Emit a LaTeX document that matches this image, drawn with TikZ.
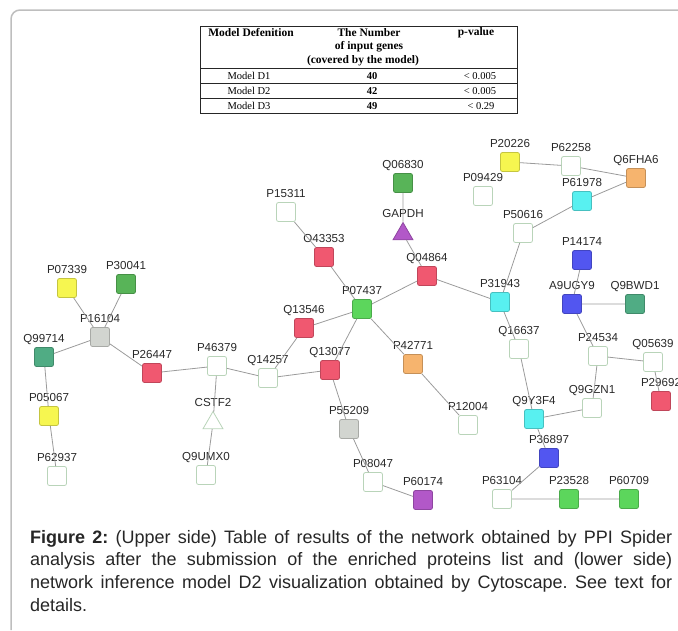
\documentclass[tikz,border=0pt]{standalone}
\usepackage{fontspec}
\setmainfont{Liberation Serif}
\setsansfont{Liberation Sans}
\usetikzlibrary{shapes.geometric}
\frenchspacing

\definecolor{nodered}{RGB}{240,88,112}
\definecolor{nodegreen}{RGB}{92,214,92}
\definecolor{nodedkgreen}{RGB}{88,180,88}
\definecolor{nodeteal}{RGB}{80,172,132}
\definecolor{nodeyellow}{RGB}{246,246,80}
\definecolor{nodeorange}{RGB}{246,180,110}
\definecolor{nodecyan}{RGB}{88,240,240}
\definecolor{nodeblue}{RGB}{82,86,240}
\definecolor{nodepurple}{RGB}{178,88,200}
\definecolor{nodegray}{RGB}{210,213,208}
\definecolor{nodeline}{RGB}{185,212,185}
\definecolor{edgegray}{RGB}{155,155,155}
\definecolor{framegray}{RGB}{190,190,190}
\definecolor{labeltext}{RGB}{40,40,40}

\tikzset{
  prot/.style={rectangle, rounded corners=2, minimum size=19, inner sep=0,
    line width=0.8, fill=#1, draw=#1!80!black},
  protw/.style={prot=white, draw=nodeline},
  hub/.style={regular polygon, regular polygon sides=3, minimum size=23,
    inner sep=0, line width=0.8, fill=#1, draw=#1!80!black},
  every label/.style={font=\sffamily\fontsize{11.6}{13}\selectfont,
    text=labeltext, inner sep=0, text depth=0},
  link/.style={draw=edgegray, line width=0.8},
  tabline/.style={draw=black!85, line width=0.9},
  tabhead/.style={font=\fontsize{11.5}{14}\selectfont\bfseries, inner sep=0},
  tabcell/.style={font=\fontsize{10.5}{12}\selectfont, inner sep=0},
  caption/.style={font=\sffamily\fontsize{18}{22.7}\selectfont, text=black!85,
    text width=642, align=justify, inner sep=0}
}

\begin{document}
\begin{tikzpicture}[x=1pt, y=-1pt, label distance=4]
  \useasboundingbox (0,0) rectangle (678,630);

  % frame
  \draw[framegray, line width=1.5, rounded corners=9] (678,10) -- (11,10) -- (11,630);

  % table of models
  \draw[tabline] (200,26) rectangle (517,113);
  \draw[tabline] (200,68) -- (517,68);
  \draw[tabline] (200,83) -- (517,83);
  \draw[tabline] (200,98) -- (517,98);
  \node[tabhead] (hmodel) at (251,33) {Model Defenition};
  \node[tabhead] (hnumA)  at (369,33) {The Number};
  \node[tabhead] (hnumB)  at (369,47) {of input genes};
  \node[tabhead] (hnumC)  at (363,61) {(covered by the model)};
  \node[tabhead] (hpval)  at (476,33) {p-value};
  \node[tabcell] (mA) at (249,76)  {Model D1};
  \node[tabcell] (mB) at (249,91)  {Model D2};
  \node[tabcell] (mC) at (249,106) {Model D3};
  \node[tabcell, font=\fontsize{10.5}{12}\selectfont\bfseries] (nA) at (372,76)  {40};
  \node[tabcell, font=\fontsize{10.5}{12}\selectfont\bfseries] (nB) at (372,91)  {42};
  \node[tabcell, font=\fontsize{10.5}{12}\selectfont\bfseries] (nC) at (372,106) {49};
  \node[tabcell] (pA) at (480,76)  {< 0.005};
  \node[tabcell] (pB) at (480,91)  {< 0.005};
  \node[tabcell] (pC) at (481,106) {< 0.29};

  % proteins
  \node[protw, label=above:P15311] (P15311) at (286,212) {};
  \node[prot=nodered, label=above:O43353] (O43353) at (324,257) {};
  \node[prot=nodered, label=above:Q13546] (Q13546) at (304,328) {};
  \node[prot=nodegreen, label=above:P07437] (P07437) at (362,309) {};
  \node[prot=nodered, label=above:Q04864] (Q04864) at (427,276) {};
  \node[prot=nodedkgreen, label=above:Q06830] (Q06830) at (403,183) {};
  \node[hub=nodepurple, label=above:GAPDH] (GAPDH) at (403,234) {};
  \node[prot=nodeyellow, label=above:P20226] (P20226) at (510,162) {};
  \node[protw, label=above:P62258] (P62258) at (571,166) {};
  \node[prot=nodeorange, label=above:Q6FHA6] (Q6FHA6) at (636,178) {};
  \node[protw, label=above:P09429] (P09429) at (483,196) {};
  \node[prot=nodecyan, label=above:P61978] (P61978) at (582,201) {};
  \node[protw, label=above:P50616] (P50616) at (523,233) {};
  \node[prot=nodeblue, label=above:P14174] (P14174) at (582,260) {};
  \node[prot=nodecyan, label=above:P31943] (P31943) at (500,302) {};
  \node[prot=nodeblue, label=above:A9UGY9] (A9UGY9) at (572,304) {};
  \node[prot=nodeteal, label=above:Q9BWD1] (Q9BWD1) at (635,304) {};
  \node[prot=nodeyellow, label=above:P07339] (P07339) at (67,288) {};
  \node[prot=nodedkgreen, label=above:P30041] (P30041) at (126,284) {};
  \node[prot=nodegray, label=above:P16104] (P16104) at (100,337) {};
  \node[prot=nodeteal, label=above:Q99714] (Q99714) at (44,357) {};
  \node[prot=nodered, label=above:P26447] (P26447) at (152,373) {};
  \node[protw, label=above:P46379] (P46379) at (217,366) {};
  \node[protw, label=above:Q14257] (Q14257) at (268,378) {};
  \node[prot=nodered, label=above:Q13077] (Q13077) at (330,370) {};
  \node[hub=white, draw=nodeline, label=above:CSTF2] (CSTF2) at (213,423) {};
  \node[prot=nodeyellow, label=above:P05067] (P05067) at (49,416) {};
  \node[protw, label=above:P62937] (P62937) at (57,476) {};
  \node[protw, label=above:Q9UMX0] (Q9UMX0) at (206,475) {};
  \node[prot=nodeorange, label=above:P42771] (P42771) at (413,364) {};
  \node[prot=nodegray, label=above:P55209] (P55209) at (349,429) {};
  \node[protw, label=above:Q16637] (Q16637) at (519,349) {};
  \node[protw, label=above:P24534] (P24534) at (598,356) {};
  \node[protw, label=above:Q05639] (Q05639) at (653,362) {};
  \node[prot=nodered, label=above:P29692] (P29692) at (661,401) {};
  \node[protw, label=above:Q9GZN1] (Q9GZN1) at (592,408) {};
  \node[prot=nodecyan, label=above:Q9Y3F4] (Q9Y3F4) at (534,419) {};
  \node[protw, label=above:P12004] (P12004) at (468,425) {};
  \node[prot=nodeblue, label=above:P36897] (P36897) at (549,458) {};
  \node[protw, label=above:P08047] (P08047) at (373,482) {};
  \node[prot=nodepurple, label=above:P60174] (P60174) at (423,500) {};
  \node[protw, label=above:P63104] (P63104) at (502,499) {};
  \node[prot=nodegreen, label=above:P23528] (P23528) at (569,499) {};
  \node[prot=nodegreen, label=above:P60709] (P60709) at (629,499) {};

  % interactions
  \draw[link] (P15311) -- (O43353) -- (P07437) -- (Q04864) -- (GAPDH) -- (Q06830);
  \draw[link] (Q04864) -- (P31943) -- (P50616) -- (P61978) -- (Q6FHA6) -- (P62258) -- (P20226);
  \draw[link] (P31943) -- (Q16637) -- (Q9Y3F4) -- (Q9GZN1) -- (P24534) -- (Q05639) -- (P29692);
  \draw[link] (P24534) -- (A9UGY9) -- (Q9BWD1);
  \draw[link] (A9UGY9) -- (P14174);
  \draw[link] (Q9Y3F4) -- (P36897) -- (P63104) -- (P23528) -- (P60709);
  \draw[link] (P07437) -- (P42771) -- (P12004);
  \draw[link] (P07437) -- (Q13546) -- (Q14257) -- (Q13077) -- (P07437);
  \draw[link] (Q13077) -- (P55209) -- (P08047) -- (P60174);
  \draw[link] (Q14257) -- (P46379) -- (P26447) -- (P16104) -- (P07339);
  \draw[link] (P16104) -- (P30041);
  \draw[link] (P16104) -- (Q99714) -- (P05067) -- (P62937);
  \draw[link] (P46379) -- (CSTF2) -- (Q9UMX0);

  % caption
  \node[caption, anchor=north west] (capt) at (30,530)
    {\textbf{Figure 2:} (Upper side) Table of results of the network obtained by PPI Spider\linebreak
     analysis after the submission of the enriched proteins list and (lower side)\linebreak
     network inference model D2 visualization obtained by Cytoscape. See text for\linebreak
     details.};
\end{tikzpicture}
\end{document}
